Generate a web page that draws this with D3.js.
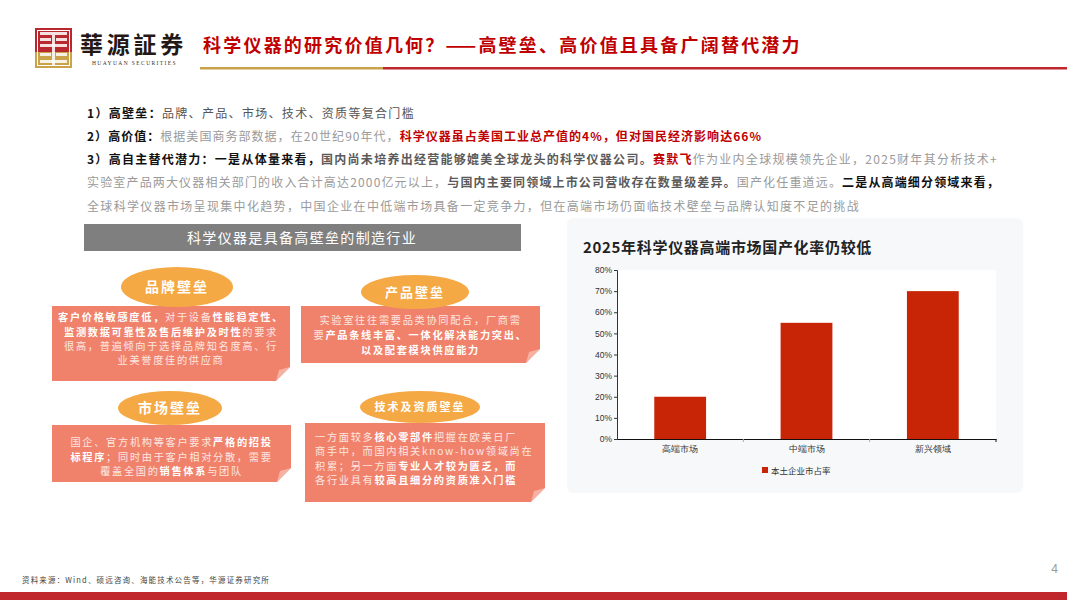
<!DOCTYPE html>
<html><head><meta charset="utf-8">
<script src="https://cdn.jsdelivr.net/npm/d3@7"></script>
<style>
html,body{margin:0;padding:0;background:#fff;}
svg{display:block;font-family:"Noto Sans CJK SC","Noto Sans",sans-serif;}
</style></head>
<body>
<svg id="s" width="1067" height="600"></svg>
<script>
// ---------- DATA ----------
const categories = ["高端市场", "中端市场", "新兴领域"];
const shareValues = [0.20, 0.55, 0.70];
const seriesName = "本土企业市占率";
const yTicks = [0, 0.1, 0.2, 0.3, 0.4, 0.5, 0.6, 0.7, 0.8];
const chartTitle = "2025年科学仪器高端市场国产化率仍较低";
const pageTitle = "科学仪器的研究价值几何？——高壁垒、高价值且具备广阔替代潜力";
const bannerText = "科学仪器是具备高壁垒的制造行业";
const sourceText = "资料来源：Wind、硕远咨询、海能技术公告等，华源证券研究所";
// bullet lines: [text, style]  b=bold black, g=gray, lg=light gray, bg=bold gray, r=bold red
const bulletLines = [
  [["1）高壁垒：","b"],["品牌、产品、市场、技术、资质等复合门槛","g"]],
  [["2）高价值：","b"],["根据美国商务部数据，在20世纪90年代，","lg"],["科学仪器虽占美国工业总产值的4%，但对国民经济影响达66%","r"]],
  [["3）高自主替代潜力：一是从体量来看，","b"],["国内尚未培养出经营能够媲美全球龙头的科学仪器公司。","bg"],["赛默飞","r"],["作为业内全球规模领先企业，2025财年其分析技术+","lg"]],
  [["实验室产品两大仪器相关部门的收入合计高达2000亿元以上，","lg"],["与国内主要同领域上市公司营收存在数量级差异。","bg"],["国产化任重道远。","lg"],["二是从高端细分领域来看，","b"]],
  [["全球科学仪器市场呈现集中化趋势，中国企业在中低端市场具备一定竞争力，但在高端市场仍面临技术壁垒与品牌认知度不足的挑战","lg"]]
];
const barrierTitles = ["品牌壁垒", "产品壁垒", "市场壁垒", "技术及资质壁垒"];
const barrierTexts = [
  [[["客户价格敏感度低，",1],["对于设备",0],["性能稳定性、",1]],
   [["监测数据可靠性及售后维护及时性",1],["的要求",0]],
   [["很高，普遍倾向于选择品牌知名度高、行",0]],
   [["业美誉度佳的供应商",0]]],
  [[["实验室往往需要品类协同配合，厂商需",0]],
   [["要",0],["产品条线丰富、一体化解决能力突出、",1]],
   [["以及配套模块供应能力",1]]],
  [[["国企、官方机构等客户要求",0],["严格的招投",1]],
   [["标程序",1],["；同时由于客户相对分散，需要",0]],
   [["覆盖全国的",0],["销售体系",1],["与团队",0]]],
  [[["一方面较多",0],["核心零部件",1],["把握在欧美日厂",0]],
   [["商手中，而国内相关know-how领域尚在",0]],
   [["积累；另一方面",0],["专业人才较为匮乏，而",1]],
   [["各行业具有",0],["较高且细分的资质准入门槛",1]]]
];

// ---------- HELPERS ----------
const svg = d3.select("#s");
function fit(sel, target){
  sel.style("letter-spacing","0px");
  const node = sel.node();
  const w = node.getComputedTextLength();
  const n = node.textContent.length;
  const ls = (target - w)/n;
  sel.style("letter-spacing", ls + "px");
}
const styleMap = {
  b:{fill:"#111", weight:700},
  g:{fill:"#555", weight:400},
  lg:{fill:"#9a9a9a", weight:400},
  bg:{fill:"#5a5a5a", weight:700},
  r:{fill:"#c00000", weight:700}
};

// ---------- HEADER ----------
const logo = svg.append("g");
logo.append("rect").attr("x",35).attr("y",28).attr("width",37).attr("height",24).attr("fill","#b8282e");
logo.append("rect").attr("x",35).attr("y",52).attr("width",37).attr("height",16).attr("fill","#c9a24a");
[[40,32,27,3],[40,38,11,3],[56,38,11,3],[40,44,27,3],[40,53,11,3],[56,53,11,3],[40,60,27,3],[52,35,3,30]].forEach(r=>{
  logo.append("rect").attr("x",r[0]).attr("y",r[1]).attr("width",r[2]).attr("height",r[3]).attr("fill","#fff").attr("opacity",0.85);
});
logo.append("rect").attr("x",37.5).attr("y",30.5).attr("width",32).attr("height",35).attr("fill","none").attr("stroke","#fff").attr("stroke-width",1);

const lt = svg.append("text").attr("x",80).attr("y",53).attr("font-size",23).attr("font-weight",700)
  .attr("fill","#231815").style("font-family","'Noto Sans CJK TC','Noto Sans CJK SC',serif").text("華源証券");
fit(lt,107);
const lt2 = svg.append("text").attr("x",92).attr("y",65).attr("font-size",5.5).attr("fill","#333")
  .style("font-family","'Liberation Serif',serif").text("HUAYUAN SECURITIES");
fit(lt2,85);

const pt = svg.append("text").attr("x",203).attr("y",52).attr("font-size",18).attr("font-weight",700)
  .attr("fill","#c00000").text(pageTitle);
fit(pt,601);

svg.append("rect").attr("x",200).attr("y",67).attr("width",183).attr("height",2.5).attr("fill","#c9a24a");
svg.append("rect").attr("x",383).attr("y",67).attr("width",684).attr("height",2.5).attr("fill","#c0272d");

// ---------- BULLETS ----------
const bulletY = [118, 141, 164, 187, 211];
const bulletW = [328, 675, 911, 913, 773];
bulletLines.forEach((line,i)=>{
  const t = svg.append("text").attr("x",87).attr("y",bulletY[i]).attr("font-size",12);
  line.forEach(seg=>{
    const st = styleMap[seg[1]];
    t.append("tspan").attr("fill",st.fill).attr("font-weight",st.weight).text(seg[0]);
  });
  fit(t, bulletW[i]);
});

// ---------- BANNER ----------
svg.append("rect").attr("x",84).attr("y",224).attr("width",437).attr("height",27).attr("fill","#7f7f7f");
const bt = svg.append("text").attr("x",302).attr("y",243).attr("text-anchor","middle").attr("font-size",14)
  .attr("fill","#fff").text(bannerText);
fit(bt,230);

// ---------- BARRIER BOXES ----------
const boxes = [
  {x:52,y:306,w:238,h:75, ex:177,ey:287,rx:56,ry:20, fs:14, lines:[321,336,350,364], align:"middle"},
  {x:301,y:306,w:239,h:57, ex:415,ey:292,rx:54,ry:17, fs:13, lines:[324,339,354], align:"middle"},
  {x:52,y:425,w:239,h:57, ex:170,ey:408,rx:52,ry:17, fs:14, lines:[446,461,475], align:"middle"},
  {x:305,y:423,w:240,h:79, ex:420,ey:407,rx:60,ry:16, fs:11, lines:[441,455,470,484], align:"start"}
];
const salmon = "#f0826c", gold = "#f5a945";
boxes.forEach((b,i)=>{
  const c = 14;
  svg.append("path").attr("fill",salmon)
    .attr("d",`M${b.x},${b.y}H${b.x+b.w}V${b.y+b.h-c}L${b.x+b.w-c},${b.y+b.h}H${b.x}Z`);
  svg.append("path").attr("fill","#fbd0c6").attr("opacity",0.6)
    .attr("d",`M${b.x+b.w},${b.y+b.h-c}L${b.x+b.w-c},${b.y+b.h}L${b.x+b.w-c+3},${b.y+b.h-c+3}Z`);
  svg.append("ellipse").attr("cx",b.ex).attr("cy",b.ey).attr("rx",b.rx).attr("ry",b.ry).attr("fill",gold);
  svg.append("text").attr("x",b.ex).attr("y",b.ey+b.fs*0.36).attr("text-anchor","middle")
    .attr("font-size",b.fs).attr("font-weight",700).attr("fill","#fff").style("letter-spacing","2px").text(barrierTitles[i]);
  barrierTexts[i].forEach((ln,j)=>{
    const t = svg.append("text").attr("font-size",10.2).attr("fill","#fff")
      .attr("y",b.lines[j]).style("letter-spacing","1.7px")
      .attr("x", b.align==="middle" ? b.x+b.w/2 : b.x+10)
      .attr("text-anchor", b.align);
    ln.forEach(seg=>t.append("tspan").attr("font-weight",seg[1]?700:400).attr("fill", seg[1]?"#fff":"#fde6e0").text(seg[0]));
  });
});

// ---------- CHART PANEL ----------
svg.append("rect").attr("x",567).attr("y",218).attr("width",456).attr("height",275).attr("rx",6).attr("fill","#f7f8fa");
const ct = svg.append("text").attr("x",583).attr("y",253).attr("font-size",15).attr("font-weight",700)
  .attr("fill","#222").text(chartTitle);
fit(ct,289);

const plot = {l:617, r:996, t:270, b:439};
svg.append("rect").attr("x",plot.l).attr("y",plot.t).attr("width",plot.r-plot.l).attr("height",plot.b-plot.t).attr("fill","#fff");

const x = d3.scaleBand().domain(categories).range([plot.l, plot.r]).paddingInner(0.59).paddingOuter(0.295);
const y = d3.scaleLinear().domain([0,0.8]).range([plot.b, plot.t]);

svg.append("g").selectAll("rect").data(shareValues).join("rect")
  .attr("x",(d,i)=>x(categories[i])).attr("width",x.bandwidth())
  .attr("y",d=>y(d)).attr("height",d=>plot.b-y(d)).attr("fill","#c82506");

const yAxis = svg.append("g").attr("transform",`translate(${plot.l},0)`)
  .call(d3.axisLeft(y).tickValues(yTicks).tickFormat(d3.format(".0%")).tickSize(3).tickPadding(2));
yAxis.select(".domain").attr("stroke","#333");
yAxis.selectAll("line").attr("stroke","#333");
yAxis.selectAll("text").attr("font-size",8.5).attr("fill","#333").style("font-family","'Liberation Sans',Arial,sans-serif");

const xAxis = svg.append("g").attr("transform",`translate(0,${plot.b})`)
  .call(d3.axisBottom(x).tickSize(0).tickPadding(7));
xAxis.select(".domain").attr("stroke","#111").attr("stroke-width",1.2);
xAxis.selectAll("text").attr("font-size",8.5).attr("fill","#333");
svg.append("g").selectAll("line").data(d3.range(1,categories.length+1)).join("line")
  .attr("x1",i=>plot.l + (plot.r-plot.l)*i/categories.length).attr("x2",i=>plot.l + (plot.r-plot.l)*i/categories.length)
  .attr("y1",plot.b).attr("y2",plot.b+3).attr("stroke",(i)=>i===categories.length?"#111":"#aaa");

// legend
svg.append("rect").attr("x",762).attr("y",467).attr("width",6).attr("height",6).attr("fill","#c82506");
svg.append("text").attr("x",771).attr("y",474).attr("font-size",8.5).attr("fill","#333").text(seriesName);

// ---------- FOOTER ----------
const ft = svg.append("text").attr("x",22).attr("y",583).attr("font-size",7.5).attr("fill","#444").text(sourceText);
fit(ft,248);
svg.append("text").attr("x",1058).attr("y",573).attr("text-anchor","end").attr("font-size",12).attr("fill","#999")
  .style("font-family","'Liberation Sans',Arial,sans-serif").text("4");
svg.append("rect").attr("x",0).attr("y",592).attr("width",1067).attr("height",8).attr("fill","#c0272d");
</script>
</body></html>
